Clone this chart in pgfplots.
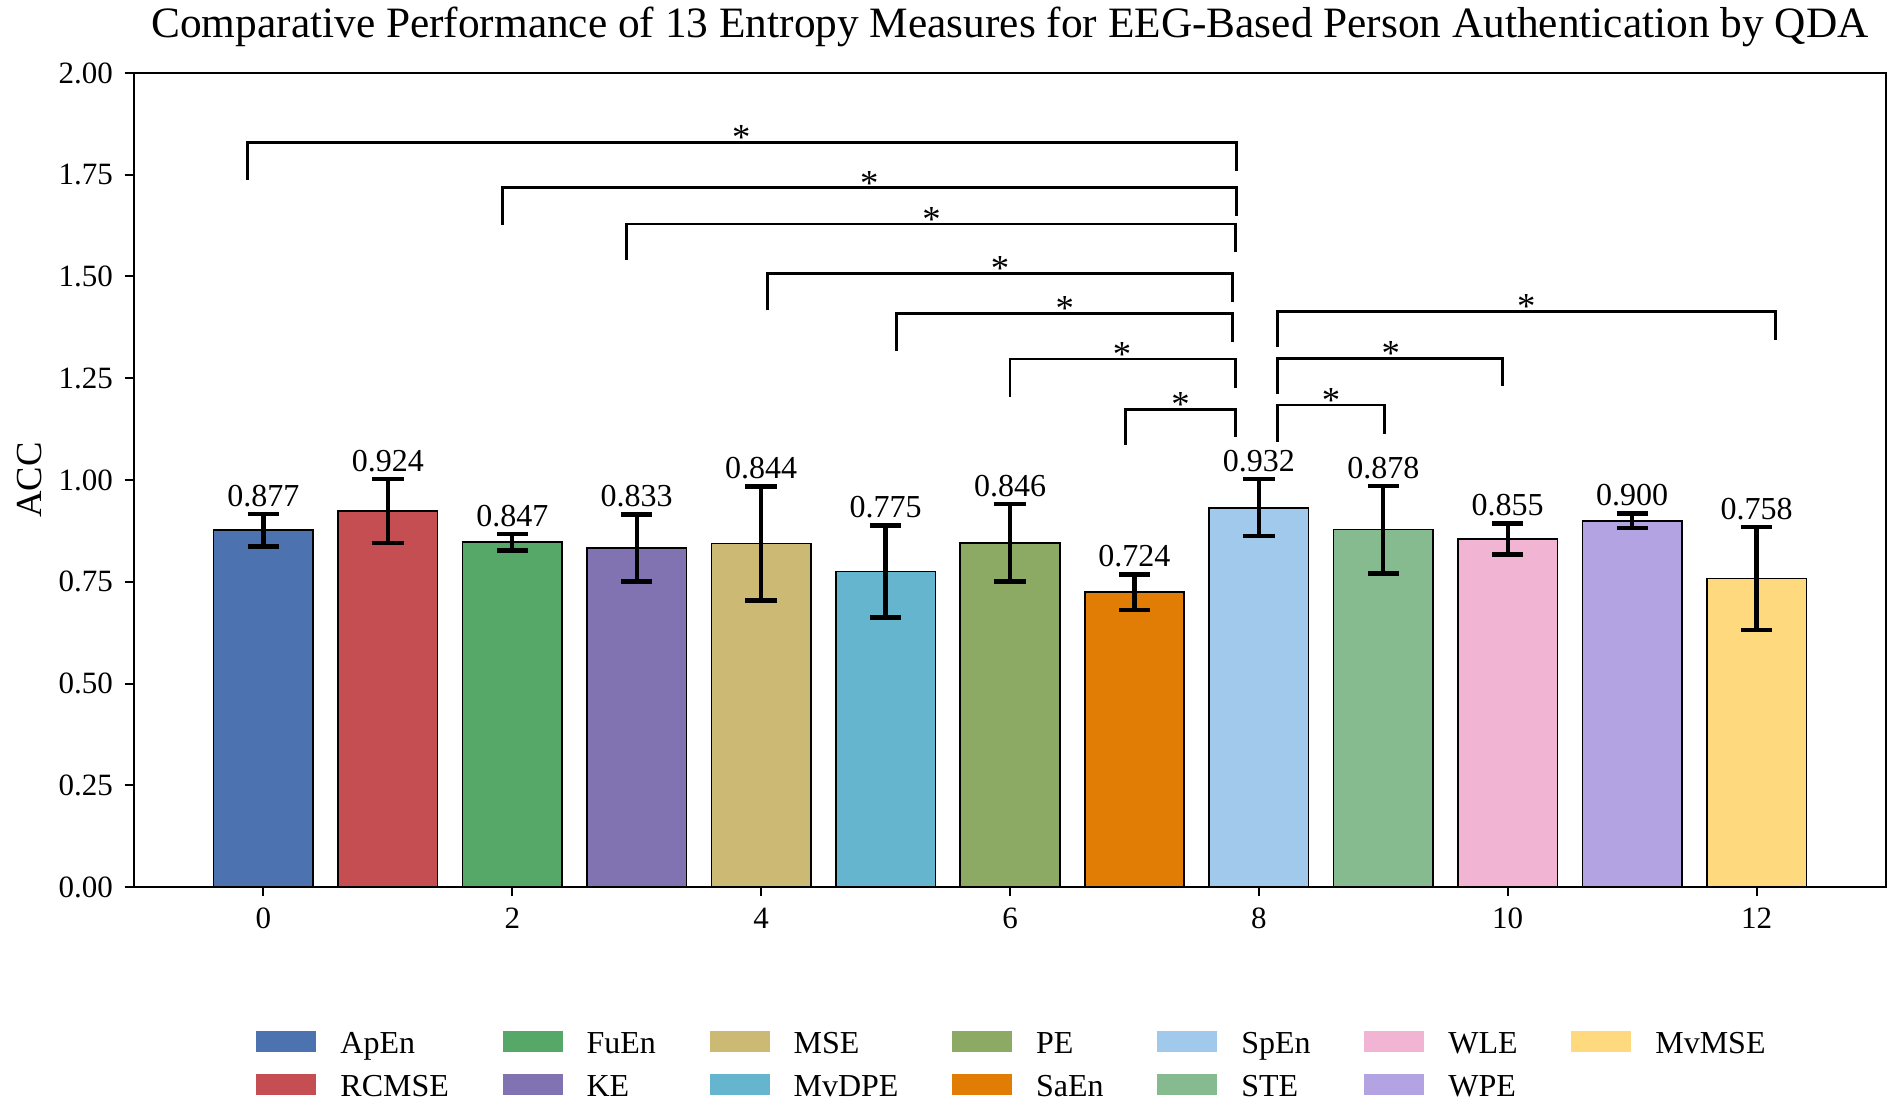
\documentclass[border=0pt]{standalone}
\usepackage{fontspec}
\setmainfont{Liberation Serif}
\usepackage{pgfplots}
\pgfplotsset{compat=1.18}

% seaborn-like palette, one colour per entropy measure
\definecolor{c0}{HTML}{4C72B0}
\definecolor{c1}{HTML}{C44E52}
\definecolor{c2}{HTML}{55A868}
\definecolor{c3}{HTML}{8172B2}
\definecolor{c4}{HTML}{CCB974}
\definecolor{c5}{HTML}{64B5CD}
\definecolor{c6}{HTML}{8DAA64}
\definecolor{c7}{HTML}{E17C05}
\definecolor{c8}{HTML}{A1C9EC}
\definecolor{c9}{HTML}{86BB8F}
\definecolor{c10}{HTML}{F2B4D3}
\definecolor{c11}{HTML}{B4A3E3}
\definecolor{c12}{HTML}{FED97D}

\pgfplotsset{
  mybar/.style={ybar, bar width=0.8, bar shift=0pt, draw=black, line width=0.5pt, fill=#1,
    legend image code/.code={\path[fill=#1, draw=none] (0pt,-1.8pt) rectangle (18pt,4.5pt);}},
  bracket/.style={forget plot, sharp plot, mark=none, black, line width=0.8pt},
}

\begin{document}
\begin{tikzpicture}
\begin{axis}[
    scale only axis,
    width=525.6pt, height=244.2pt,
    xmin=-1.04, xmax=13.04,
    ymin=0, ymax=2,
    xtick={0,2,...,12},
    ytick={0,0.25,...,2.0},
    yticklabel style={/pgf/number format/.cd, fixed, fixed zerofill, precision=2},
    /pgf/number format/assume math mode=true,
    tick label style={font=\fontsize{9.3}{11}\selectfont, black},
    xtick pos=left, ytick pos=left,
    tick align=outside,
    major tick length=2.8pt,
    tick style={black, line width=0.6pt},
    axis line style={black, line width=0.6pt},
    ylabel={ACC},
    ylabel style={font=\fontsize{11}{13}\selectfont, at={(axis description cs:-0.0594,0.5)}, anchor=center},
    title={Comparative Performance of 13 Entropy Measures for EEG-Based Person Authentication by QDA},
    title style={font=\fontsize{13}{15}\selectfont, at={(axis description cs:0.5,1)}, anchor=base, yshift=4.6pt},
    legend columns=7,
    legend style={draw=none, fill=none, at={(axis description cs:0.5,0)}, anchor=center,
      xshift=0.3pt, yshift=-54pt,
      font=\fontsize{9.6}{11}\selectfont,
      nodes={inner xsep=0pt, inner ysep=0.5pt, text height=6.6pt, text depth=2pt},
      row sep=3.3pt,
      /tikz/every odd column/.append style={column sep=7.2pt},
      /tikz/every even column/.append style={column sep=16.1pt}},
    legend cell align=left,
]
% bars, added in legend order (row by row)
\addplot[mybar=c0]  coordinates {(0,0.877)};  \addlegendentry{ApEn}
\addplot[mybar=c2]  coordinates {(2,0.847)};  \addlegendentry{FuEn}
\addplot[mybar=c4]  coordinates {(4,0.844)};  \addlegendentry{MSE}
\addplot[mybar=c6]  coordinates {(6,0.846)};  \addlegendentry{PE}
\addplot[mybar=c8]  coordinates {(8,0.932)};  \addlegendentry{SpEn}
\addplot[mybar=c10] coordinates {(10,0.855)}; \addlegendentry{WLE}
\addplot[mybar=c12] coordinates {(12,0.758)}; \addlegendentry{MvMSE}
\addplot[mybar=c1]  coordinates {(1,0.924)};  \addlegendentry{RCMSE}
\addplot[mybar=c3]  coordinates {(3,0.833)};  \addlegendentry{KE}
\addplot[mybar=c5]  coordinates {(5,0.775)};  \addlegendentry{MvDPE}
\addplot[mybar=c7]  coordinates {(7,0.724)};  \addlegendentry{SaEn}
\addplot[mybar=c9]  coordinates {(9,0.878)};  \addlegendentry{STE}
\addplot[mybar=c11] coordinates {(11,0.900)}; \addlegendentry{WPE}

% error bars
\addplot[forget plot, draw=none, mark=none,
  error bars/.cd, y dir=both, y explicit,
  error bar style={draw=black, line width=1.3pt},
  error mark options={rotate=90, mark size=4.7pt, line width=1.3pt, draw=black}]
  coordinates {
  (0,0.877) +- (0,0.040)
  (1,0.924) +- (0,0.078)
  (2,0.847) +- (0,0.020)
  (3,0.833) +- (0,0.082)
  (4,0.844) +- (0,0.140)
  (5,0.775) +- (0,0.113)
  (6,0.846) +- (0,0.095)
  (7,0.724) +- (0,0.044)
  (8,0.932) +- (0,0.070)
  (9,0.878) +- (0,0.108)
  (10,0.855) +- (0,0.038)
  (11,0.900) +- (0,0.018)
  (12,0.758) +- (0,0.127)
};

% value labels above the error bars
\addplot[forget plot, draw=none, mark=none, point meta=explicit symbolic,
  nodes near coords, nodes near coords style={anchor=base, yshift=2.3pt, inner sep=0pt,
    font=\fontsize{9.6}{11}\selectfont, black}]
  coordinates {
  (0,0.917) [0.877]
  (1,1.002) [0.924]
  (2,0.867) [0.847]
  (3,0.915) [0.833]
  (4,0.984) [0.844]
  (5,0.888) [0.775]
  (6,0.941) [0.846]
  (7,0.768) [0.724]
  (8,1.002) [0.932]
  (9,0.986) [0.878]
  (10,0.893) [0.855]
  (11,0.918) [0.900]
  (12,0.885) [0.758]
};

% significance brackets
\addplot[bracket] coordinates {(-0.13,1.738) (-0.13,1.830) (7.82,1.830) (7.82,1.760)};
\addplot[bracket] coordinates {(1.92,1.627) (1.92,1.718) (7.82,1.718) (7.82,1.648)};
\addplot[bracket] coordinates {(2.92,1.540) (2.92,1.629) (7.81,1.629) (7.81,1.559)};
\addplot[bracket] coordinates {(4.05,1.418) (4.05,1.508) (7.79,1.508) (7.79,1.437)};
\addplot[bracket] coordinates {(5.09,1.318) (5.09,1.409) (7.79,1.409) (7.79,1.339)};
\addplot[bracket] coordinates {(6.00,1.205) (6.00,1.297) (7.81,1.297) (7.81,1.227)};
\addplot[bracket] coordinates {(6.93,1.087) (6.93,1.174) (7.81,1.174) (7.81,1.105)};
\addplot[bracket] coordinates {(8.15,1.094) (8.15,1.184) (9.01,1.184) (9.01,1.113)};
\addplot[bracket] coordinates {(8.15,1.211) (8.15,1.299) (9.96,1.299) (9.96,1.230)};
\addplot[bracket] coordinates {(8.15,1.326) (8.15,1.414) (12.15,1.414) (12.15,1.345)};

% stars over the brackets
\addplot[forget plot, draw=none, mark=none, point meta=explicit symbolic,
  nodes near coords, nodes near coords style={anchor=base, yshift=-2.2pt, inner sep=0pt,
    font=\fontsize{11}{13}\selectfont, black}]
  coordinates {
  (3.84,1.830) [*]
  (4.87,1.718) [*]
  (5.37,1.629) [*]
  (5.92,1.508) [*]
  (6.44,1.409) [*]
  (6.90,1.297) [*]
  (7.37,1.174) [*]
  (8.58,1.184) [*]
  (9.06,1.299) [*]
  (10.15,1.414) [*]
};
\end{axis}
\pgfresetboundingbox
\path (-40.2pt,-68.4pt) rectangle (530.1pt,266.1pt);
\end{tikzpicture}
\end{document}
